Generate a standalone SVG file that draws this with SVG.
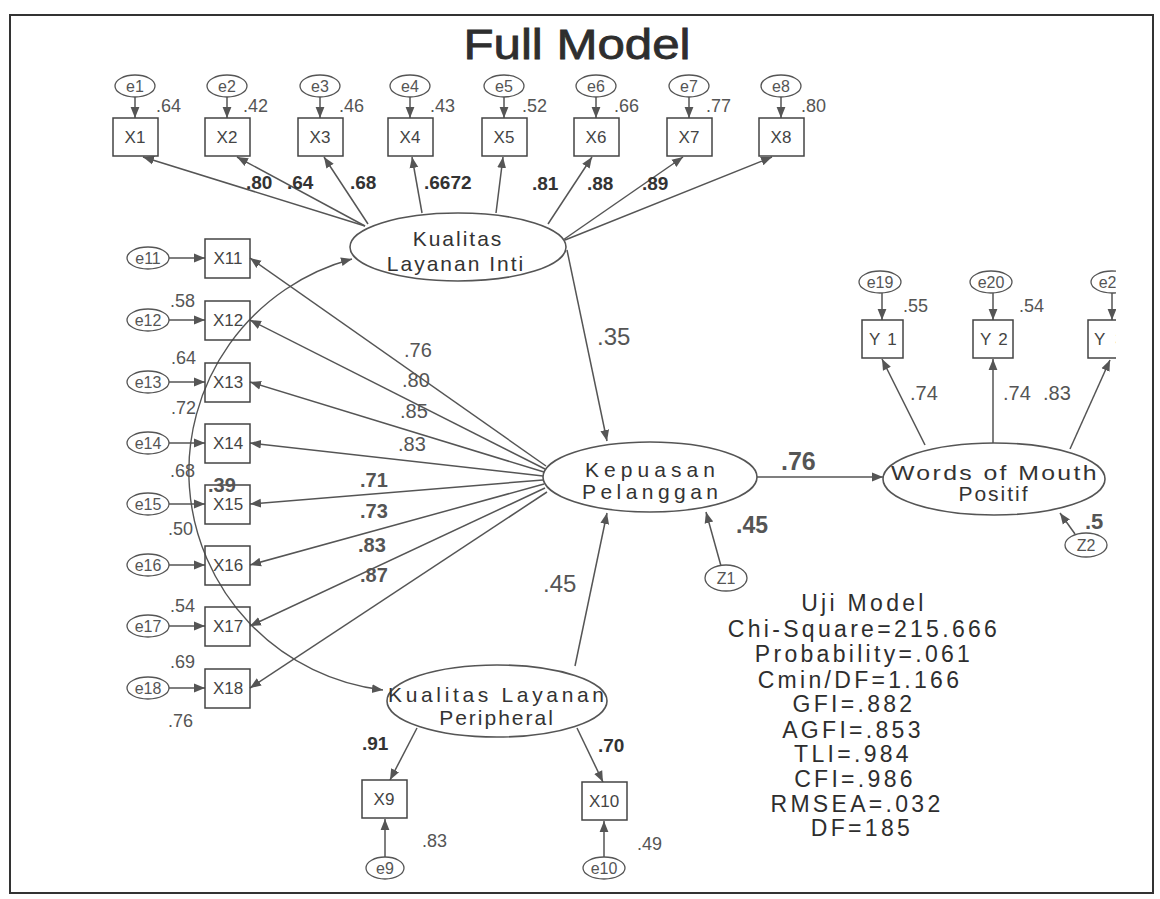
<svg xmlns="http://www.w3.org/2000/svg" width="1160" height="899" viewBox="0 0 1160 899">
<style>
text{font-family:"Liberation Sans",Arial,sans-serif;fill:#3a3a3a}
.t{font-size:42px;text-anchor:middle;fill:#2e2e2e;stroke:#2e2e2e;stroke-width:0.8}
.ev{font-size:16px;text-anchor:middle;fill:#555}
.bx{font-size:17px;text-anchor:middle;fill:#444}
.lat{font-size:21px;text-anchor:middle;letter-spacing:2px;fill:#333}
.sm{font-size:18px;fill:#555}
.bl{font-size:19px;font-weight:bold;fill:#333}
.md{font-size:20px;fill:#555}
.mb{font-size:20px;font-weight:bold;fill:#555}
.big{font-size:24px;fill:#555}
.bigb{font-size:25px;font-weight:bold;fill:#555}
.st{font-size:23px;text-anchor:middle;letter-spacing:3.3px;fill:#2e2e2e}
.box{fill:#fff;stroke:#444;stroke-width:1.5}
.err{fill:#fff;stroke:#555;stroke-width:1.3}
.lv{fill:#fff;stroke:#555;stroke-width:1.6}
.c{fill:none;stroke:#555;stroke-width:1.5;marker-end:url(#ah)}
.cv{fill:none;stroke:#555;stroke-width:1.4;marker-end:url(#ah);marker-start:url(#ah)}
</style>
<defs>
<marker id="ah" viewBox="0 0 10 10" refX="10" refY="5" markerWidth="11" markerHeight="11" markerUnits="userSpaceOnUse" orient="auto-start-reverse">
<path d="M0,1 L10,5 L0,9 z" fill="#555"/>
</marker>
<clipPath id="clipR"><rect x="0" y="0" width="1116" height="899"/></clipPath>
</defs>
<rect x="0" y="0" width="1160" height="899" fill="#fff"/>
<rect x="10" y="15" width="1143" height="878" fill="none" stroke="#333" stroke-width="2"/>
<text class="t" x="577" y="59" textLength="227" lengthAdjust="spacingAndGlyphs">Full Model</text>

<g id="connectors">
<path class="c" d="M135,97 L135,118"/>
<path class="c" d="M227,97 L227,118"/>
<path class="c" d="M320,97 L320,118"/>
<path class="c" d="M410,97 L410,118"/>
<path class="c" d="M504,97 L504,118"/>
<path class="c" d="M596,97 L596,118"/>
<path class="c" d="M689,97 L689,118"/>
<path class="c" d="M781,97 L781,118"/>
<path class="c" d="M365,226 L143,157"/>
<path class="c" d="M365,226 L237,157"/>
<path class="c" d="M368,224 L324,157"/>
<path class="c" d="M422,213 L412,157"/>
<path class="c" d="M496,213 L503,157"/>
<path class="c" d="M548,224 L592,157"/>
<path class="c" d="M563,240 L683,157"/>
<path class="c" d="M565,240 L772,157"/>
<path class="c" d="M169,258 L205,258"/>
<path class="c" d="M169,320 L205,320"/>
<path class="c" d="M169,382 L205,382"/>
<path class="c" d="M169,443 L205,443"/>
<path class="c" d="M169,504 L205,504"/>
<path class="c" d="M169,565 L205,565"/>
<path class="c" d="M169,626 L205,626"/>
<path class="c" d="M169,688 L205,688"/>
<path class="c" d="M546,466 L250,258"/>
<path class="c" d="M545,469 L250,320"/>
<path class="c" d="M544,472 L250,382"/>
<path class="c" d="M543,476 L250,443"/>
<path class="c" d="M543,480 L250,504"/>
<path class="c" d="M544,484 L250,565"/>
<path class="c" d="M545,488 L250,626"/>
<path class="c" d="M547,492 L250,688"/>
<path class="cv" d="M352,259 A220,220 0 0 0 383,690"/>
<path class="c" d="M567,250 L607,441"/>
<path class="c" d="M757,477 L883,477"/>
<path class="c" d="M721,566 L706,512"/>
<path class="c" d="M575,666 L607,513"/>
<path class="c" d="M417,728 L390,780"/>
<path class="c" d="M577,728 L603,782"/>
<path class="c" d="M385,857 L385,819"/>
<path class="c" d="M604,857 L604,821"/>
<path class="c" d="M925,445 L882,359"/>
<path class="c" d="M993,443 L993,359"/>
<path class="c" d="M1070,449 L1110,360"/>
<path class="c" d="M882,293 L882,320"/>
<path class="c" d="M993,293 L993,320"/>
<path class="c" d="M1112,293 L1112,320" clip-path="url(#clipR)"/>
<path class="c" d="M1075,534 L1060,513"/>
</g>

<g id="top-errors">
<g id="e1"><ellipse class="err" cx="135" cy="86" rx="20" ry="11"/><text class="ev" x="135" y="92">e1</text></g>
<g id="e2"><ellipse class="err" cx="227" cy="86" rx="20" ry="11"/><text class="ev" x="227" y="92">e2</text></g>
<g id="e3"><ellipse class="err" cx="320" cy="86" rx="20" ry="11"/><text class="ev" x="320" y="92">e3</text></g>
<g id="e4"><ellipse class="err" cx="410" cy="86" rx="20" ry="11"/><text class="ev" x="410" y="92">e4</text></g>
<g id="e5"><ellipse class="err" cx="504" cy="86" rx="20" ry="11"/><text class="ev" x="504" y="92">e5</text></g>
<g id="e6"><ellipse class="err" cx="596" cy="86" rx="20" ry="11"/><text class="ev" x="596" y="92">e6</text></g>
<g id="e7"><ellipse class="err" cx="689" cy="86" rx="20" ry="11"/><text class="ev" x="689" y="92">e7</text></g>
<g id="e8"><ellipse class="err" cx="781" cy="86" rx="20" ry="11"/><text class="ev" x="781" y="92">e8</text></g>
</g>

<g id="top-boxes">
<g id="X1"><rect class="box" x="113" y="118" width="45" height="38"/><text class="bx" x="135" y="143">X1</text></g>
<g id="X2"><rect class="box" x="205" y="118" width="45" height="38"/><text class="bx" x="227" y="143">X2</text></g>
<g id="X3"><rect class="box" x="298" y="118" width="45" height="38"/><text class="bx" x="320" y="143">X3</text></g>
<g id="X4"><rect class="box" x="388" y="118" width="45" height="38"/><text class="bx" x="410" y="143">X4</text></g>
<g id="X5"><rect class="box" x="482" y="118" width="45" height="38"/><text class="bx" x="504" y="143">X5</text></g>
<g id="X6"><rect class="box" x="574" y="118" width="45" height="38"/><text class="bx" x="596" y="143">X6</text></g>
<g id="X7"><rect class="box" x="667" y="118" width="45" height="38"/><text class="bx" x="689" y="143">X7</text></g>
<g id="X8"><rect class="box" x="759" y="118" width="45" height="38"/><text class="bx" x="781" y="143">X8</text></g>
</g>

<g id="top-labels">
<text class="sm" x="156" y="112">.64</text>
<text class="sm" x="243" y="112">.42</text>
<text class="sm" x="339" y="112">.46</text>
<text class="sm" x="430" y="112">.43</text>
<text class="sm" x="522" y="112">.52</text>
<text class="sm" x="614" y="112">.66</text>
<text class="sm" x="706" y="112">.77</text>
<text class="sm" x="801" y="112">.80</text>
<text class="bl" x="246" y="189">.80</text>
<text class="bl" x="287" y="189">.64</text>
<text class="bl" x="350" y="189">.68</text>
<text class="bl" x="424" y="189">.6672</text>
<text class="bl" x="532" y="190">.81</text>
<text class="bl" x="587" y="190">.88</text>
<text class="bl" x="642" y="190">.89</text>
</g>

<g id="left-errors">
<g id="e11"><ellipse class="err" cx="148" cy="258" rx="21" ry="11"/><text class="ev" x="148" y="264">e11</text></g>
<g id="e12"><ellipse class="err" cx="148" cy="320" rx="21" ry="11"/><text class="ev" x="148" y="326">e12</text></g>
<g id="e13"><ellipse class="err" cx="148" cy="382" rx="21" ry="11"/><text class="ev" x="148" y="388">e13</text></g>
<g id="e14"><ellipse class="err" cx="148" cy="443" rx="21" ry="11"/><text class="ev" x="148" y="449">e14</text></g>
<g id="e15"><ellipse class="err" cx="148" cy="504" rx="21" ry="11"/><text class="ev" x="148" y="510">e15</text></g>
<g id="e16"><ellipse class="err" cx="148" cy="565" rx="21" ry="11"/><text class="ev" x="148" y="571">e16</text></g>
<g id="e17"><ellipse class="err" cx="148" cy="626" rx="21" ry="11"/><text class="ev" x="148" y="632">e17</text></g>
<g id="e18"><ellipse class="err" cx="148" cy="688" rx="21" ry="11"/><text class="ev" x="148" y="694">e18</text></g>
</g>

<g id="left-boxes">
<g id="X11"><rect class="box" x="205" y="239" width="45" height="39" fill-opacity="0"/><text class="bx" x="228" y="264">X11</text></g>
<g id="X12"><rect class="box" x="205" y="301" width="45" height="39" fill-opacity="0"/><text class="bx" x="228" y="326">X12</text></g>
<g id="X13"><rect class="box" x="205" y="363" width="45" height="39" fill-opacity="0"/><text class="bx" x="228" y="388">X13</text></g>
<g id="X14"><rect class="box" x="205" y="424" width="45" height="39" fill-opacity="0"/><text class="bx" x="228" y="449">X14</text></g>
<g id="X15"><rect class="box" x="205" y="485" width="45" height="39" fill-opacity="0"/><text class="bx" x="228" y="510">X15</text></g>
<g id="X16"><rect class="box" x="205" y="546" width="45" height="39" fill-opacity="0"/><text class="bx" x="228" y="571">X16</text></g>
<g id="X17"><rect class="box" x="205" y="607" width="45" height="39" fill-opacity="0"/><text class="bx" x="228" y="632">X17</text></g>
<g id="X18"><rect class="box" x="205" y="669" width="45" height="39" fill-opacity="0"/><text class="bx" x="228" y="694">X18</text></g>
</g>

<g id="left-labels">
<text class="sm" x="170" y="307">.58</text>
<text class="sm" x="171" y="364">.64</text>
<text class="sm" x="171" y="414">.72</text>
<text class="sm" x="170" y="477">.68</text>
<text class="sm" x="168" y="535">.50</text>
<text class="sm" x="170" y="612">.54</text>
<text class="sm" x="170" y="668">.69</text>
<text class="sm" x="168" y="727">.76</text>
<text class="mb" x="208" y="492">.39</text>
<text class="md" x="404" y="357">.76</text>
<text class="md" x="402" y="387">.80</text>
<text class="md" x="400" y="418">.85</text>
<text class="md" x="398" y="451">.83</text>
<text class="mb" x="360" y="487">.71</text>
<text class="mb" x="360" y="518">.73</text>
<text class="mb" x="358" y="552">.83</text>
<text class="mb" x="360" y="582">.87</text>
</g>

<g id="Inti"><ellipse class="lv" cx="458" cy="247" rx="108" ry="34"/><text class="lat" x="458" y="246">Kualitas</text><text class="lat" x="456" y="271">Layanan Inti</text></g>
<g id="Kepuasan"><ellipse class="lv" cx="650" cy="477" rx="107" ry="35"/><text class="lat" x="651" y="477" textLength="132">Kepuasan</text><text class="lat" x="651" y="499" textLength="138">Pelanggan</text></g>
<g id="WoM"><ellipse class="lv" cx="994" cy="479" rx="111" ry="36"/><text class="lat" x="995" y="480" textLength="208" lengthAdjust="spacingAndGlyphs">Words of Mouth</text><text class="lat" x="994" y="501">Positif</text></g>
<g id="Peripheral"><ellipse class="lv" cx="497" cy="701" rx="110" ry="36"/><text class="lat" x="497" y="702" textLength="218">Kualitas Layanan</text><text class="lat" x="497" y="725">Peripheral</text></g>

<g id="Z1"><ellipse class="err" cx="726" cy="578" rx="21" ry="13"/><text class="ev" x="726" y="584">Z1</text></g>
<g id="Z2"><ellipse class="err" cx="1086" cy="545" rx="21" ry="12"/><text class="ev" x="1086" y="551">Z2</text></g>

<g id="Y-side" clip-path="url(#clipR)">
<g id="e19"><ellipse class="err" cx="880" cy="282" rx="21" ry="11"/><text class="ev" x="880" y="288">e19</text></g>
<g id="e20"><ellipse class="err" cx="991" cy="282" rx="21" ry="11"/><text class="ev" x="991" y="288">e20</text></g>
<g id="e21"><ellipse class="err" cx="1112" cy="282" rx="21" ry="11"/><text class="ev" x="1112" y="288">e21</text></g>
<g id="Y1"><rect class="box" x="862" y="320" width="41" height="38"/><text class="bx" x="869" y="345" style="text-anchor:start" letter-spacing="7">Y1</text></g>
<g id="Y2"><rect class="box" x="973" y="320" width="40" height="38"/><text class="bx" x="980" y="345" style="text-anchor:start" letter-spacing="7">Y2</text></g>
<g id="Y3"><rect class="box" x="1088" y="320" width="41" height="38"/><text class="bx" x="1094" y="345" style="text-anchor:start" letter-spacing="10">Y3</text></g>
</g>

<g id="struct-labels">
<text class="big" x="597" y="345">.35</text>
<text class="bigb" x="781" y="470">.76</text>
<text class="mb" x="736" y="533" style="font-size:23px">.45</text>
<text class="big" x="543" y="592">.45</text>
<text class="bl" x="362" y="750">.91</text>
<text class="bl" x="598" y="752">.70</text>
<text class="sm" x="422" y="847">.83</text>
<text class="sm" x="637" y="850">.49</text>
<text class="sm" x="903" y="312">.55</text>
<text class="sm" x="1019" y="312">.54</text>
<text class="md" x="910" y="400">.74</text>
<text class="md" x="1003" y="400">.74</text>
<text class="md" x="1043" y="400">.83</text>
<text class="mb" x="1085" y="529" style="font-size:22px">.5</text>
</g>

<g id="bottom-boxes">
<g id="X9"><rect class="box" x="362" y="780" width="45" height="38"/><text class="bx" x="384" y="805">X9</text></g>
<g id="X10"><rect class="box" x="582" y="782" width="45" height="38"/><text class="bx" x="604" y="807">X10</text></g>
<g id="e9"><ellipse class="err" cx="385" cy="868" rx="19" ry="11"/><text class="ev" x="385" y="874">e9</text></g>
<g id="e10"><ellipse class="err" cx="604" cy="868" rx="21" ry="11"/><text class="ev" x="604" y="874">e10</text></g>
</g>

<g id="stats">
<text class="st" x="864" y="611">Uji Model</text>
<text class="st" x="864" y="637">Chi-Square=215.666</text>
<text class="st" x="864" y="662">Probability=.061</text>
<text class="st" x="860" y="688">Cmin/DF=1.166</text>
<text class="st" x="854" y="712">GFI=.882</text>
<text class="st" x="853" y="738">AGFI=.853</text>
<text class="st" x="853" y="762">TLI=.984</text>
<text class="st" x="855" y="787">CFI=.986</text>
<text class="st" x="857" y="812">RMSEA=.032</text>
<text class="st" x="862" y="836">DF=185</text>
</g>
</svg>
